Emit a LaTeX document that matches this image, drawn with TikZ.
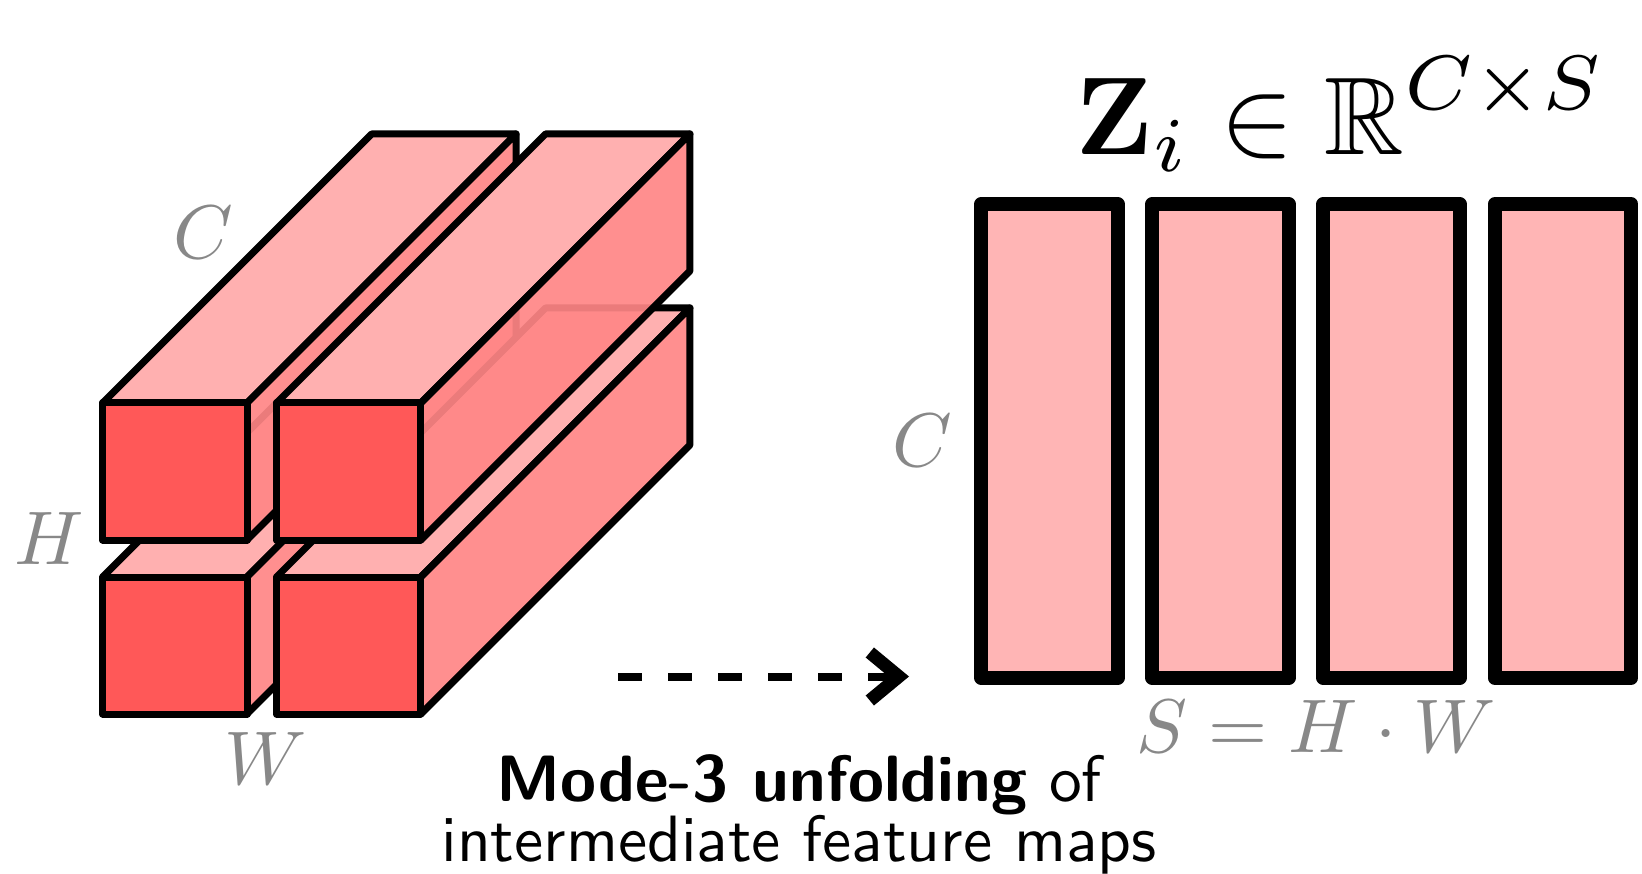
\documentclass[tikz,border=0pt]{standalone}
\usepackage{amsmath,amssymb,bm}
\usetikzlibrary{arrows.meta}
\definecolor{frontc}{HTML}{FF5858}
\definecolor{topc}{HTML}{FFB0B0}
\definecolor{sidec}{HTML}{FF8686}
\definecolor{slabc}{HTML}{FFB5B5}
\definecolor{labelc}{HTML}{888888}
\tikzset{
  edge/.style={line width=7pt,line join=round,line cap=round,draw=black},
  slab/.style={draw=black,fill=slabc,line width=14pt,line join=round,minimum width=136.5pt,minimum height=473.5pt,inner sep=0pt,outer sep=0pt},
  dimlabel/.style={text=labelc,inner sep=0pt,scale=7.6},
  caption/.style={inner sep=0pt,anchor=base,scale=6.55,font=\sffamily},
}
\newcommand{\cuboid}[2]{%
  \fill[topc] (#1,#2) -- ++(269,-269) -- ++(144.4,0) -- ++(-269,269) -- cycle;
  \draw[edge] (#1,#2) -- ++(269,-269) -- ++(144.4,0) -- ++(-269,269);
  \fill[sidec,fill opacity=0.92] (#1+144.4,#2) -- ++(269,-269) -- ++(0,137) -- ++(-269,269) -- cycle;
  \draw[edge] (#1+144.4,#2) -- ++(269,-269) -- ++(0,137) -- ++(-269,269);
  \filldraw[edge,fill=frontc] (#1,#2) rectangle ++(144.4,137);
}
\begin{document}
\begin{tikzpicture}[x=1pt,y=-1pt]
\useasboundingbox (0,0) rectangle (1642,874);
\cuboid{102.6}{577}
\cuboid{276.5}{577}
\cuboid{102.6}{403}
\cuboid{276.5}{403}
\node[slab] (s1) at (1049.5,441) {};
\node[slab] (s2) at (1220.5,441) {};
\node[slab] (s3) at (1391.5,441) {};
\node[slab] (s4) at (1563,441) {};
\node[dimlabel] (lc1) at (203,233) {$C$};
\node[dimlabel] (lh) at (49,539) {$H$};
\node[dimlabel] (lw) at (266,759) {$W$};
\node[dimlabel] (lc2) at (922,441) {$C$};
\node[dimlabel] (ls) at (1316,727) {$S=H\cdot W$};
\node[inner sep=0pt,anchor=base,scale=11.05] (title) at (1341,155) {$\mathbf{Z}_i\in\mathbb{R}^{\raisebox{0.45pt}{$\scriptstyle C\times S$}}$};
\node[caption] (cap1) at (799,801) {\textbf{Mode-3 unfolding} of};
\node[caption] (cap2) at (799,861) {intermediate feature maps};
\coordinate (a) at (618,676.5);
\coordinate (b) at (909,676.5);
\draw[line width=8pt,dash pattern=on 24pt off 26pt,-{Straight Barb[length=29pt,width=48pt,line width=13pt,round=false,line cap=butt,line join=miter]}] (a) -- (b);
\end{tikzpicture}
\end{document}
